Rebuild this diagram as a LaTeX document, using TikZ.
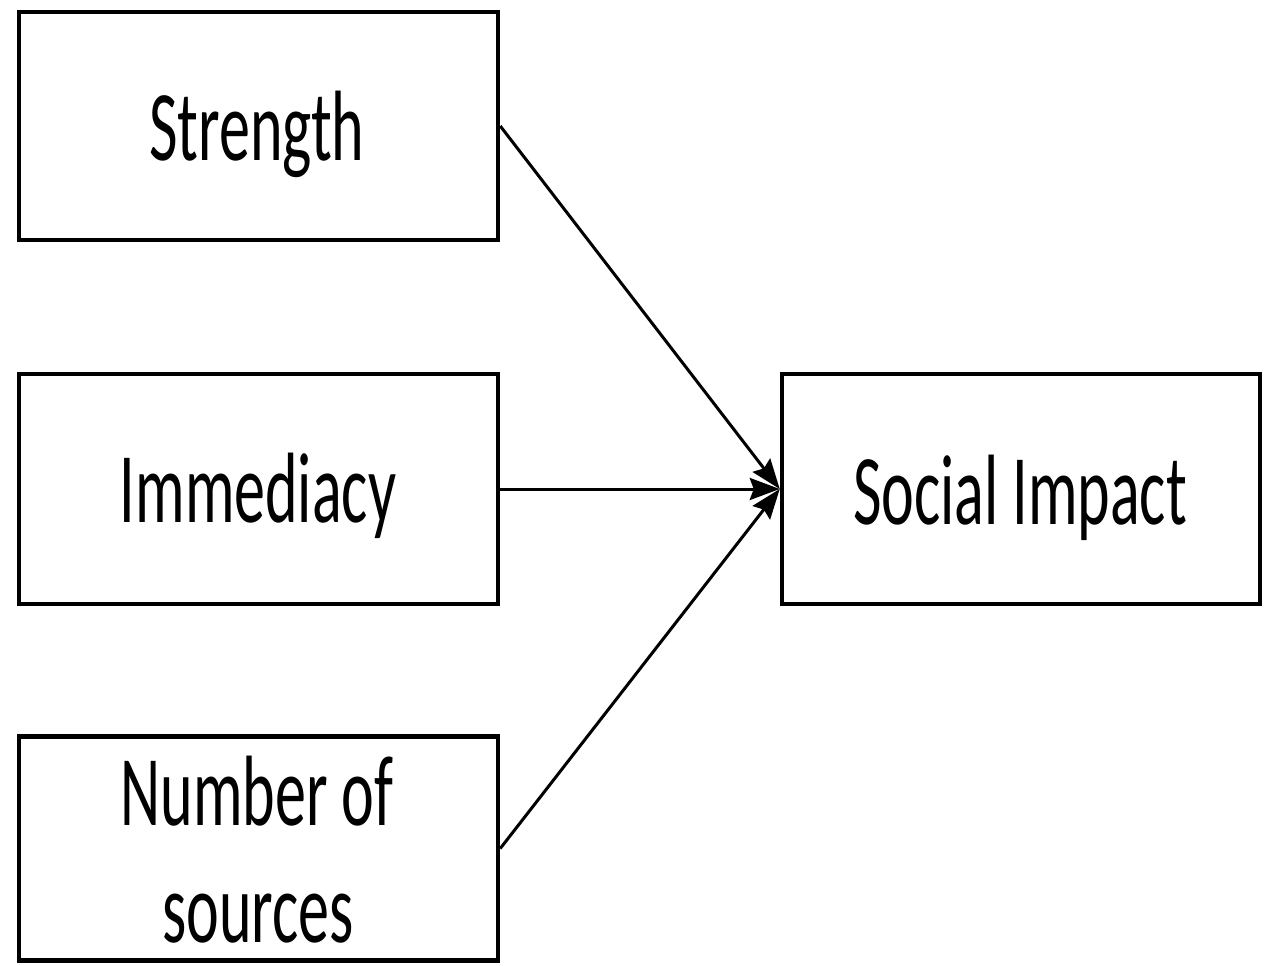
\documentclass[tikz,border=0pt]{standalone}
\usepackage{fontspec}
\usepackage{graphicx}
\setmainfont{Carlito}
\usetikzlibrary{arrows.meta}
\newcommand{\condtext}[1]{\scalebox{0.62}[1]{#1}}
\tikzset{
  box/.style={draw=black, line width=4.5pt, fill=white, inner sep=0pt},
  lbl/.style={inner sep=0pt, anchor=base, font=\fontsize{100}{120}\selectfont},
  conn/.style={line width=3pt, draw=black, -{Stealth[length=30pt,width=22pt,inset=4pt,fill=black]}},
}
\begin{document}
\begin{tikzpicture}[x=1pt,y=1pt]
\useasboundingbox (0,0) rectangle (1264,-966);
\node[box, minimum width=479pt, minimum height=228pt] (s) at (258.5,-126) {};
\node[box, minimum width=479pt, minimum height=230pt] (i) at (258.5,-489) {};
\node[box, minimum width=479pt, minimum height=224pt] (n) at (258.5,-848.5) {};
\node[box, minimum width=478pt, minimum height=230pt] (si) at (1021,-489) {};
\node[lbl] (ts) at (257,-160) {\condtext{Strength}};
\node[lbl] (ti) at (258,-522) {\condtext{Immediacy}};
\node[lbl] (tn1) at (257,-825) {\condtext{Number of}};
\node[lbl] (tn2) at (258,-942) {\condtext{sources}};
\node[lbl] (tsi) at (1020,-524) {\condtext{Social Impact}};
\draw[conn] (s.east) -- (si.west);
\draw[conn] (i.east) -- (si.west);
\draw[conn] (n.east) -- (si.west);
\end{tikzpicture}
\end{document}
